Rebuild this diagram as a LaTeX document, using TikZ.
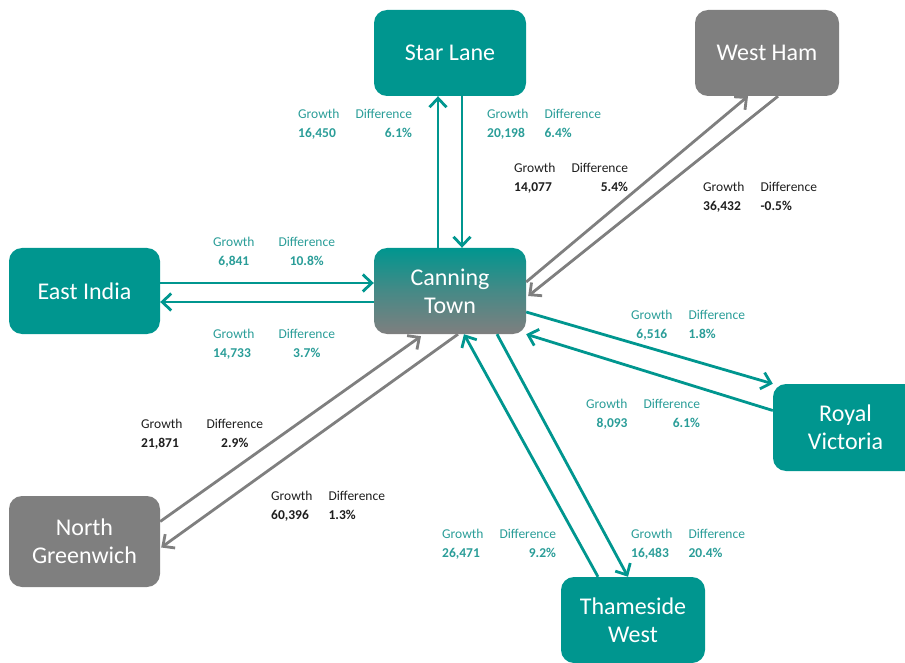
\documentclass[tikz,border=0pt]{standalone}
\usepackage{fontspec}
\setmainfont{Carlito}
\usepackage{tikz}
\usetikzlibrary{arrows.meta, calc}
\definecolor{stteal}{HTML}{00968F}
\definecolor{stgray}{HTML}{7F7F7F}
\definecolor{labteal}{HTML}{2A9D98}
\definecolor{labink}{HTML}{1E1E1E}

\newcommand{\gd}[5][16pt]{%
  \begin{tabular}[t]{@{}#2@{\hspace{#1}}#3@{}}
    Growth & Difference\\
    \textbf{#4} & \textbf{#5}
  \end{tabular}}

\begin{document}
\begin{tikzpicture}[
  x=1pt, y=-1pt,
  stn/.style={rounded corners=13pt, minimum width=152pt, minimum height=86pt,
              inner sep=0pt, align=center, text=white,
              font=\fontsize{24}{28}\selectfont},
  fig/.style={anchor=base west, inner sep=0pt, font=\fontsize{13.5}{19}\selectfont},
  arrt/.style={line width=2.8pt, color=stteal, -{Straight Barb[length=9pt, width=17pt]}},
  arrg/.style={line width=2.8pt, color=stgray, -{Straight Barb[length=9pt, width=17pt]}}
]
  \useasboundingbox (0,0) rectangle (905,663);

  % Stations
  \node[stn, fill=stteal] (star) at (450,53) {Star Lane};
  \node[stn, fill=stgray, minimum width=144pt] (westham) at (767,53) {West Ham};
  \node[stn, fill=stteal, minimum width=151pt] (eastindia) at (84.5,291) {East India};
  \node[stn, top color=stteal, bottom color=stgray, middle color=stteal!45!stgray] (canning) at (450,291) {Canning\\Town};
  \node[stn, fill=stteal, minimum width=145pt, minimum height=87pt] (royal) at (845.5,427.5) {Royal\\Victoria};
  \node[stn, fill=stgray, minimum width=151pt, minimum height=91pt] (northgr) at (84.5,541.5) {North\\Greenwich};
  \node[stn, fill=stteal, minimum width=144pt] (thameside) at (633,620) {Thameside\\West};

  % Flows
  \draw[arrt] ($(canning.north)+(-12,0)$) -- ($(star.south)+(-12,0)$);
  \draw[arrt] ($(star.south)+(12,0)$) -- ($(canning.north)+(12,0)$);

  \draw[arrt] ($(eastindia.east)+(0,-8)$) -- ($(canning.west)+(0,-8)$);
  \draw[arrt] ($(canning.west)+(0,11)$) -- ($(eastindia.east)+(0,11)$);

  \draw[arrg] ($(canning.east)+(0,-9)$) -- ($(westham.south)+(-19,0)$);
  \draw[arrg] ($(westham.south)+(11,0)$) -- ($(canning.east)+(2,5)$);

  \draw[arrt] ($(canning.east)+(0,21)$) -- (royal.north west);
  \draw[arrt] ($(royal.west)+(0,-17)$) -- (canning.south east);

  \draw[arrg] ($(northgr.east)+(0,-20)$) -- ($(canning.south)+(-29,2)$);
  \draw[arrg] ($(canning.south)+(8,0)$) -- ($(northgr.east)+(1,6)$);

  \draw[arrt] ($(thameside.north)+(-35,0)$) -- ($(canning.south)+(14,0)$);
  \draw[arrt] ($(canning.south)+(47,0)$) -- ($(thameside.north)+(-5,0)$);

  % Figures
  \node[fig, text=labteal] (starL) at (298,119) {\gd{l}{r}{16,450}{6.1\%}};
  \node[fig, text=labteal] (starR) at (487,119) {\gd{l}{l}{20,198}{6.4\%}};
  \node[fig, text=labink] (whL) at (514,173) {\gd{l}{r}{14,077}{5.4\%}};
  \node[fig, text=labink] (whR) at (703,192) {\gd{l}{l}{36,432}{-0.5\%}};
  \node[fig, text=labteal] (eiT) at (213,247) {\gd[24pt]{c}{c}{6,841}{10.8\%}};
  \node[fig, text=labteal] (eiB) at (213,338) {\gd[24pt]{l}{c}{14,733}{3.7\%}};
  \node[fig, text=labink] (ngT) at (141,428) {\gd[24pt]{l}{c}{21,871}{2.9\%}};
  \node[fig, text=labink] (ngB) at (271,500) {\gd{l}{l}{60,396}{1.3\%}};
  \node[fig, text=labteal] (twL) at (442,538) {\gd{l}{r}{26,471}{9.2\%}};
  \node[fig, text=labteal] (twR) at (631,538) {\gd{l}{l}{16,483}{20.4\%}};
  \node[fig, text=labteal] (rvT) at (631,319) {\gd{c}{l}{6,516}{1.8\%}};
  \node[fig, text=labteal] (rvB) at (586,408) {\gd{r}{r}{8,093}{6.1\%}};
\end{tikzpicture}
\end{document}
